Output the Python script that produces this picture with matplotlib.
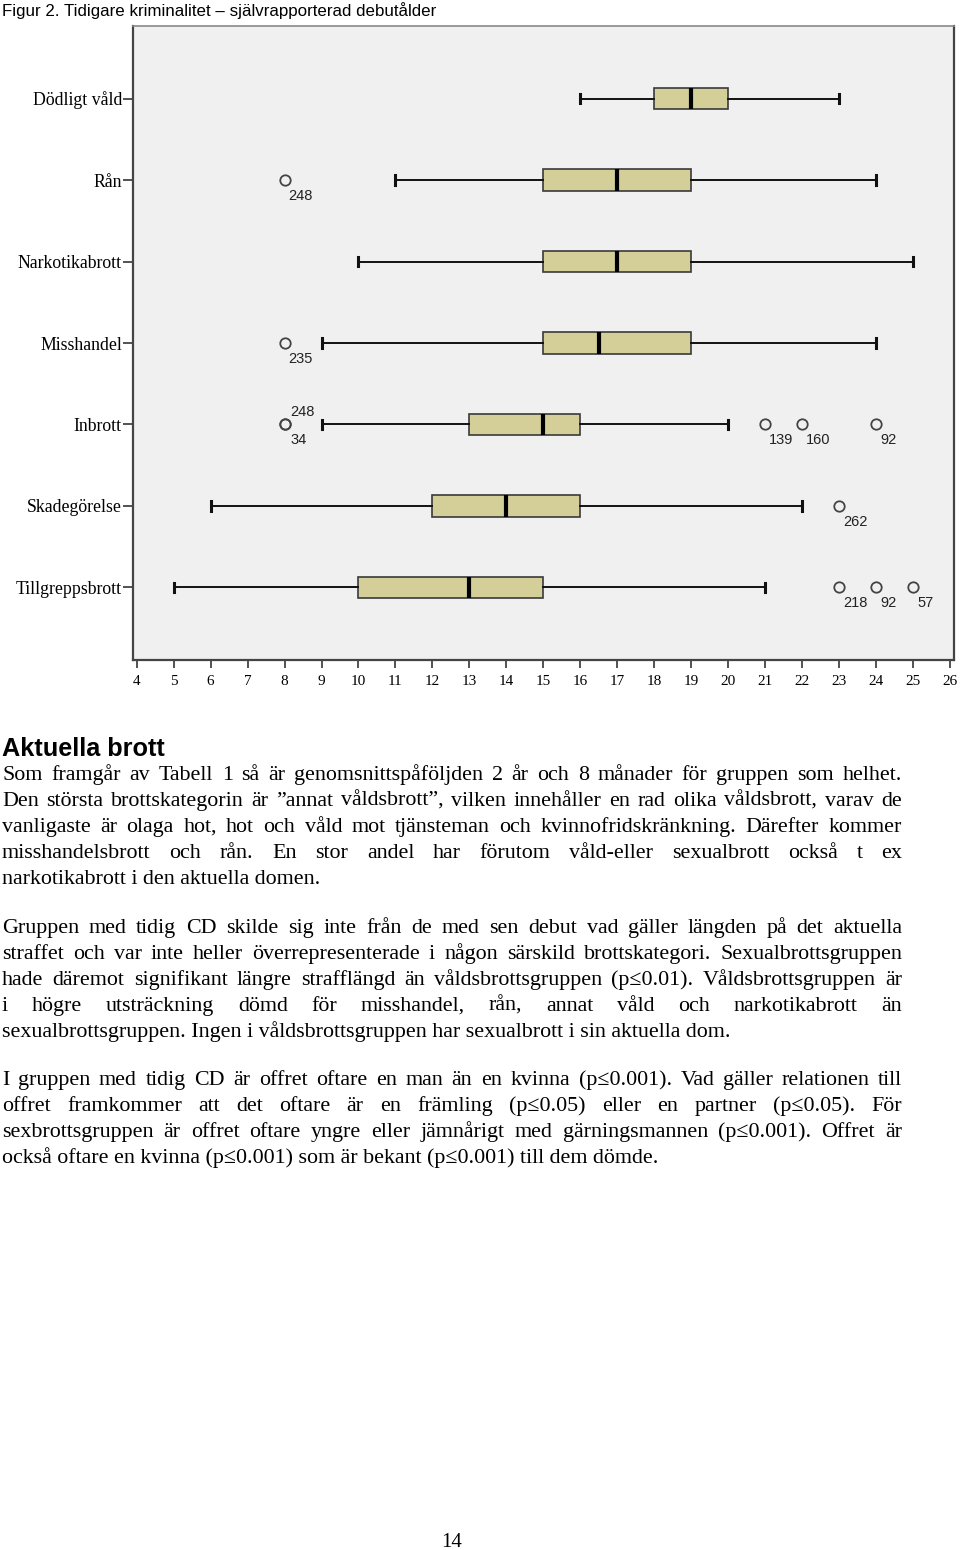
import matplotlib
matplotlib.use('Agg')
import matplotlib.pyplot as plt

# --- data ---
categories = ['Dödligt våld', 'Rån', 'Narkotikabrott', 'Misshandel',
              'Inbrott', 'Skadegörelse', 'Tillgreppsbrott']
whislo = [16, 11, 10, 9, 9, 6, 5]
q1 = [18, 15, 15, 15, 13, 12, 10]
med = [19, 17, 17, 16.5, 15, 14, 13]
q3 = [20, 19, 19, 19, 16, 16, 15]
whishi = [23, 24, 25, 24, 20, 22, 21]
outliers = [[], [8], [], [8], [8, 8, 21, 22, 24], [23], [23, 24, 25]]
outlier_ids = [[], ['248'], [], ['235'], ['248', '34', '139', '160', '92'],
               ['262'], ['218', '92', '57']]
xticks = list(range(4, 27))

title = 'Figur 2. Tidigare kriminalitet – självrapporterad debutålder'
heading = 'Aktuella brott'
paragraphs = [
    ['Som framgår av Tabell 1 så är genomsnittspåföljden 2 år och 8 månader för gruppen som helhet.',
     'Den största brottskategorin är ”annat våldsbrott”, vilken innehåller en rad olika våldsbrott, varav de',
     'vanligaste är olaga hot, hot och våld mot tjänsteman och kvinnofridskränkning. Därefter kommer',
     'misshandelsbrott och rån. En stor andel har förutom våld-eller sexualbrott också t ex',
     'narkotikabrott i den aktuella domen.'],
    ['Gruppen med tidig CD skilde sig inte från de med sen debut vad gäller längden på det aktuella',
     'straffet och var inte heller överrepresenterade i någon särskild brottskategori. Sexualbrottsgruppen',
     'hade däremot signifikant längre strafflängd än våldsbrottsgruppen (p≤0.01). Våldsbrottsgruppen är',
     'i högre utsträckning dömd för misshandel, rån, annat våld och narkotikabrott än',
     'sexualbrottsgruppen. Ingen i våldsbrottsgruppen har sexualbrott i sin aktuella dom.'],
    ['I gruppen med tidig CD är offret oftare en man än en kvinna (p≤0.001). Vad gäller relationen till',
     'offret framkommer att det oftare är en främling (p≤0.05) eller en partner (p≤0.05). För',
     'sexbrottsgruppen är offret oftare yngre eller jämnårigt med gärningsmannen (p≤0.001). Offret är',
     'också oftare en kvinna (p≤0.001) som är bekant (p≤0.001) till dem dömde.'],
]
page_number = '14'

W, H = 960, 1550
SERIF = ['Liberation Serif', 'DejaVu Serif']
SANS = ['Liberation Sans', 'DejaVu Sans']

fig = plt.figure(figsize=(W / 100, H / 100), dpi=100)
renderer = fig.canvas.get_renderer()


def px(x, y):
    return x / W, 1 - y / H


# --- box plot ---
ax = fig.add_axes([133 / W, 1 - 660 / H, (954 - 133) / W, (660 - 26) / H])
ax.set_facecolor('#F0F0F0')
pos = list(range(len(categories)))
stats = [dict(label=c, whislo=a, q1=b, med=m, q3=d, whishi=e, fliers=f)
         for c, a, b, m, d, e, f in zip(categories, whislo, q1, med, q3, whishi, outliers)]
ax.bxp(stats, positions=pos, widths=0.26, capwidths=0.12, orientation='horizontal',
       patch_artist=True,
       boxprops=dict(facecolor='#D4CF99', edgecolor='#3a3a3a', linewidth=1.2),
       medianprops=dict(color='black', linewidth=3, solid_capstyle='butt'),
       whiskerprops=dict(color='#111111', linewidth=1.4),
       capprops=dict(color='#111111', linewidth=2.2),
       flierprops=dict(marker='o', markerfacecolor='none', markeredgecolor='#444444',
                       markersize=7.5, markeredgewidth=1.3))

# case labels next to outliers; coinciding points get one label above, the rest below
for p, vals, ids in zip(pos, outliers, outlier_ids):
    seen = {}
    for v, lab in zip(vals, ids):
        n = seen.get(v, 0)
        seen[v] = n + 1
        shared = vals.count(v) > 1
        dy = 12 if (shared and n == 0) else -16
        dx = 6 if shared else 4
        ax.annotate(lab, (v, p), xytext=(dx, dy), textcoords='offset pixels',
                    ha='left', va='center', fontsize=10.5, family=SANS, color='#222222')

ax.set_xlim(3.9, 26.11)
ax.set_ylim(len(categories) - 1 + 0.89, -0.89)
ax.set_yticks(pos, categories, fontsize=12.8, family=SERIF)
ax.set_xticks(xticks, [str(t) for t in xticks], fontsize=11, family=SERIF)
ax.tick_params(axis='y', length=7.2, width=1.3, color='#444444', pad=0.8)
ax.tick_params(axis='x', length=5.8, width=1.3, color='#444444', pad=5)
for side in ['left', 'bottom', 'right']:
    ax.spines[side].set_color('#444444')
    ax.spines[side].set_linewidth(1.6)
ax.spines['top'].set_color('#888888')
ax.spines['top'].set_linewidth(1.2)

# --- page text ---
fig.text(*px(2, 16), title, fontsize=12.2, family=SANS, va='baseline', ha='left')
fig.text(*px(2, 756), heading, fontsize=18.2, family=SANS, weight='bold',
         va='baseline', ha='left')

LEFT, RIGHT = 2, 902
BODY = 15.8


def word_width(w, size):
    t = fig.text(0, 0, w, fontsize=size, family=SERIF)
    wd = t.get_window_extent(renderer).width
    t.remove()
    return wd


def put_line(line, y, size, justify):
    if not justify:
        fig.text(*px(LEFT, y), line, fontsize=size, family=SERIF, va='baseline', ha='left')
        return
    words = line.split()
    widths = [word_width(w, size) for w in words]
    gap = (RIGHT - LEFT - sum(widths)) / (len(words) - 1)
    x = LEFT
    for w, wd in zip(words, widths):
        fig.text(*px(x, y), w, fontsize=size, family=SERIF, va='baseline', ha='left')
        x += wd + gap


para_top = [780, 933, 1085]
for top, lines in zip(para_top, paragraphs):
    for i, line in enumerate(lines):
        put_line(line, top + 26 * i, BODY, i < len(lines) - 1)

fig.text(*px(452, 1547), page_number, fontsize=15, family=SERIF, va='baseline', ha='center')

fig.savefig('out.png', dpi=100, facecolor='white')
